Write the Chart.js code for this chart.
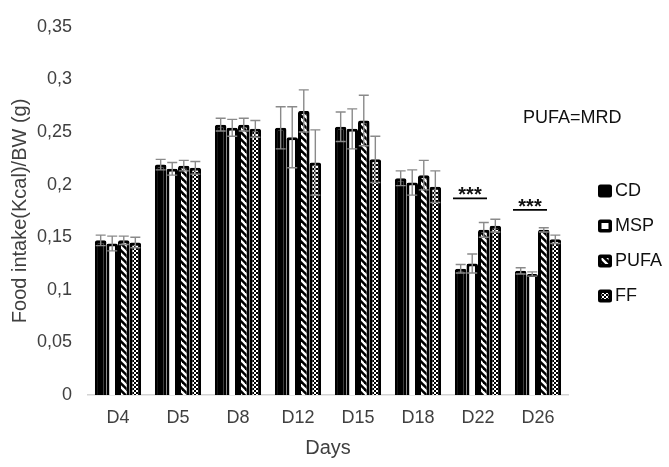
<!DOCTYPE html>
<html>
<head>
<meta charset="utf-8">
<script src="https://cdn.jsdelivr.net/npm/chart.js@4/dist/chart.umd.min.js"></script>
<style>
  html, body { margin: 0; padding: 0; background: #ffffff; }
  #wrap { width: 669px; height: 467px; position: relative; }
</style>
</head>
<body>
<div id="wrap"><canvas id="c" width="669" height="467"></canvas></div>
<script>
// ---------- DATA ----------
const categories = ['D4', 'D5', 'D8', 'D12', 'D15', 'D18', 'D22', 'D26'];
const seriesNames = ['CD', 'MSP', 'PUFA', 'FF'];
const cdValues   = [0.147, 0.219, 0.257, 0.254, 0.255, 0.206, 0.120, 0.118];
const cdErrors   = [0.005, 0.005, 0.006, 0.020, 0.014, 0.007, 0.004, 0.003];
const mspValues  = [0.144, 0.215, 0.254, 0.245, 0.253, 0.202, 0.125, 0.115];
const mspErrors  = [0.007, 0.006, 0.008, 0.029, 0.019, 0.012, 0.009, 0.002];
const pufaValues = [0.147, 0.218, 0.257, 0.270, 0.261, 0.209, 0.157, 0.157];
const pufaErrors = [0.004, 0.005, 0.006, 0.020, 0.024, 0.014, 0.007, 0.002];
const ffValues   = [0.145, 0.216, 0.253, 0.221, 0.224, 0.198, 0.161, 0.148];
const ffErrors   = [0.005, 0.006, 0.008, 0.031, 0.022, 0.015, 0.006, 0.004];
const yTickLabels = ['0', '0,05', '0,1', '0,15', '0,2', '0,25', '0,3', '0,35'];
const sigCategories = ['D22', 'D26'];
const sigLevels = [0.187, 0.176];
const sigLabels = ['***', '***'];
const noteText = 'PUFA=MRD';
const xTitle = 'Days';
const yTitle = 'Food intake(Kcal)/BW (g)';

// ---------- PATTERNS ----------
function makeStripe() {
  const s = 7;
  const c = document.createElement('canvas');
  c.width = s; c.height = s;
  const g = c.getContext('2d');
  g.fillStyle = '#000'; g.fillRect(0, 0, s, s);
  g.strokeStyle = '#fff'; g.lineWidth = 2.4;
  for (const o of [-s, 0, s]) {
    g.beginPath(); g.moveTo(o - 1, -1); g.lineTo(o + s + 1, s + 1); g.stroke();
  }
  return g.createPattern(c, 'repeat');
}
function makeChecker() {
  const c = document.createElement('canvas');
  c.width = 4; c.height = 4;
  const g = c.getContext('2d');
  g.fillStyle = '#fff'; g.fillRect(0, 0, 4, 4);
  g.fillStyle = '#000'; g.fillRect(0, 0, 2, 2); g.fillRect(2, 2, 2, 2);
  return g.createPattern(c, 'repeat');
}
const stripePattern = makeStripe();
const checkerPattern = makeChecker();

const FONT = '"Liberation Sans", Arial, sans-serif';
const TEXT = '#404040';

const errorSets = [cdErrors, mspErrors, pufaErrors, ffErrors];

// ---------- PLUGINS ----------
const errorBarPlugin = {
  id: 'errorBars',
  afterDatasetsDraw(chart) {
    const ctx = chart.ctx;
    const y = chart.scales.y;
    ctx.save();
    ctx.strokeStyle = '#8a8a8a';
    ctx.lineWidth = 1.4;
    chart.data.datasets.forEach((ds, di) => {
      const meta = chart.getDatasetMeta(di);
      const errs = errorSets[di];
      meta.data.forEach((bar, i) => {
        const v = ds.data[i], e = errs[i];
        const x = bar.x;
        const yt = y.getPixelForValue(v + e);
        const yb = y.getPixelForValue(v - e);
        ctx.beginPath();
        ctx.moveTo(x, yt); ctx.lineTo(x, yb);
        ctx.moveTo(x - 5, yt); ctx.lineTo(x + 5, yt);
        ctx.moveTo(x - 5, yb); ctx.lineTo(x + 5, yb);
        ctx.stroke();
      });
    });
    ctx.restore();
  }
};

const annotationPlugin = {
  id: 'annot',
  afterDraw(chart) {
    const ctx = chart.ctx;
    const xs = chart.scales.x, ys = chart.scales.y;
    const area = chart.chartArea;
    ctx.save();
    // significance marks
    sigCategories.forEach((cat, k) => {
      const cx = xs.getPixelForValue(categories.indexOf(cat));
      const ly = ys.getPixelForValue(sigLevels[k]);
      ctx.strokeStyle = '#000';
      ctx.lineWidth = 1.8;
      ctx.beginPath();
      ctx.moveTo(cx - 25, ly); ctx.lineTo(cx + 9, ly);
      ctx.stroke();
      ctx.fillStyle = '#111';
      ctx.font = 'bold 20px ' + FONT;
      ctx.textAlign = 'center';
      ctx.textBaseline = 'alphabetic';
      ctx.fillText(sigLabels[k], cx - 8, ly + 3);
    });
    // note text
    ctx.fillStyle = '#111';
    ctx.font = '18px ' + FONT;
    ctx.textAlign = 'left';
    ctx.textBaseline = 'middle';
    ctx.fillText(noteText, area.right - 45, 118);
    // legend
    const lx = area.right + 30;
    chart.data.datasets.forEach((ds, i) => {
      const cy = 191 + i * 35;
      ctx.fillStyle = '#000';
      ctx.beginPath();
      if (ctx.roundRect) ctx.roundRect(lx, cy - 6.5, 14, 13, 2.5); else ctx.rect(lx, cy - 6.5, 14, 13);
      ctx.fill();
      if (i > 0) {
        ctx.fillStyle = ds.backgroundColor;
        ctx.fillRect(lx + 3.5, cy - 3, 7, 6);
      }
      ctx.fillStyle = '#111';
      ctx.font = '18px ' + FONT;
      ctx.textAlign = 'left';
      ctx.textBaseline = 'middle';
      ctx.fillText(ds.label, lx + 17, cy + 0.5);
    });
    ctx.restore();
  }
};

// ---------- CHART ----------
const fills = ['#000000', '#ffffff', stripePattern, checkerPattern];
const valueSets = [cdValues, mspValues, pufaValues, ffValues];

new Chart(document.getElementById('c'), {
  type: 'bar',
  data: {
    labels: categories,
    datasets: seriesNames.map((n, i) => ({
      label: n,
      data: valueSets[i],
      backgroundColor: fills[i],
      borderColor: '#000000',
      borderWidth: 3,
      borderRadius: 2,
      borderSkipped: 'bottom',
      barPercentage: 1.0,
      categoryPercentage: 0.77
    }))
  },
  options: {
    responsive: false,
    animation: false,
    devicePixelRatio: 1,
    layout: { padding: { top: 22, right: 101, bottom: 0, left: 0 } },
    plugins: {
      legend: { display: false },
      tooltip: { enabled: false },
      title: { display: false }
    },
    scales: {
      x: {
        grid: { display: false, drawTicks: false },
        border: { display: true, color: '#d4d4d4', width: 1.5 },
        ticks: { font: { family: FONT, size: 18 }, color: TEXT, padding: 12 },
        title: { display: true, text: xTitle, font: { family: FONT, size: 20 }, color: TEXT, padding: { top: 0, bottom: 7 } },
        afterFit(s) { s.height = 72; }
      },
      y: {
        min: 0, max: 0.35,
        grid: { display: false, drawTicks: false },
        border: { display: false },
        ticks: {
          stepSize: 0.05,
          font: { family: FONT, size: 18 },
          color: TEXT,
          padding: 16,
          callback: (v, idx) => yTickLabels[idx]
        },
        title: { display: true, text: yTitle, font: { family: FONT, size: 20 }, color: TEXT, padding: { top: 8, bottom: 0 } },
        afterFit(s) { s.width = 88; }
      }
    }
  },
  plugins: [errorBarPlugin, annotationPlugin]
});
</script>
</body>
</html>
